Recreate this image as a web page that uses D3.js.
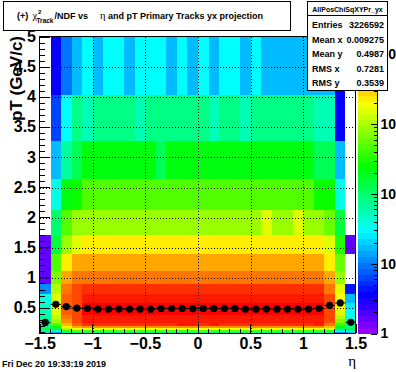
<!DOCTYPE html>
<html><head><meta charset="utf-8">
<script src="https://cdn.jsdelivr.net/npm/d3@7"></script>
<style>body{margin:0;background:#fff}svg{display:block}</style>
</head><body><svg id="c" width="396" height="372"></svg>
<script>
// ---- binning ----
const etaEdges = [-1.5,-1.4,-1.3,-1.2,-1.1,-1.0,-0.9,-0.8,-0.7,-0.6,-0.5,-0.4,-0.3,-0.2,-0.1,0,0.1,0.2,0.3,0.4,0.5,0.6,0.7,0.8,0.9,1.0,1.1,1.2,1.3,1.4,1.5];
const ptEdges = [0.07,0.0867,0.107,0.133,0.164,0.204,0.252,0.312,0.386,0.478,0.592,0.733,0.907,1.123,1.39,1.72,2.13,2.64,3.27,4.04,5.0];
// ---- counts per pT bin (30 eta bins each), top row first ----
const pt19 = [0,3.6,9.6,17,31,16,30,32,17,31,29,31,16,30,17,32,17,30,31,17,30,18,17,16,17,18,17,16,3.5,0];
const pt18 = [0,6.4,31,82,56,84,80,83,79,55,81,85,82,80,84,83,57,81,84,56,82,80,83,85,81,84,55,57,3.6,0];
const pt17 = [0,17,68,122,220,218,222,216,219,221,217,124,220,223,218,221,219,217,222,220,218,221,219,216,222,218,121,123,17,0];
const pt16 = [0,38,220,268,480,475,482,478,485,470,479,483,476,481,488,477,480,484,474,479,486,478,481,476,483,480,266,270,37,0];
const pt15 = [0,100,480,860,870,855,865,872,858,866,862,870,857,868,875,860,866,871,859,864,869,1550,862,867,1540,865,858,580,148,0];
const pt14 = [1.6,148,860,1550,2290,2310,2280,2320,2300,2295,2315,2285,2305,2330,2298,2310,2288,2302,2318,2292,2308,2296,2312,2287,2305,2299,2290,1560,325,1.6];
const pt13 = [1.6,480,2300,4140,4160,4120,4180,4150,4130,4170,4145,4155,4125,4165,4140,4175,4135,4150,4160,4128,4170,4142,4158,4133,4166,4148,4138,2290,590,0];
const pt12 = [1.6,710,4140,6100,6150,6080,6200,6120,6090,6170,6110,6140,6060,6180,6130,6105,6160,6095,6145,6175,6085,6125,6155,6115,6135,6090,6165,4150,860,0];
const pt11 = [11.6,1050,6130,9100,11000,11050,10950,11100,11020,10980,11070,11010,11040,10960,11080,11030,10990,11060,11015,11045,10970,11055,11025,10985,11035,11005,11065,6120,1550,4.4];
const pt10 = [37,1550,7450,9070,13400,13500,13300,13600,13450,13350,13550,13420,13480,13380,13520,13440,13360,13580,13410,13470,13390,13530,13430,13370,13510,13460,13400,9060,1890,17];
const pt09 = [46,1890,7460,9080,15200,15400,15100,15600,15300,15000,15500,15250,15350,15150,15450,15300,15100,15550,15200,15400,15150,15500,15250,15050,15450,15350,15200,9050,1880,25];
const pt08 = [56,1560,7440,9060,15900,16100,15800,16300,16000,15700,16200,15950,16050,15850,16150,18000,15800,16250,15900,16100,15850,16200,16000,15750,16150,16050,15900,9070,1540,31];
const pt07 = [68,1280,6130,9070,14000,14100,13950,14200,14050,13900,14150,14020,14080,13980,14120,14040,13960,14180,14010,14070,13990,14130,14030,13970,14110,14060,14000,9060,1050,37];
const pt06 = [68,860,5040,9050,13200,13300,13150,13400,13250,13100,13350,13220,13280,13180,13320,13240,13160,13380,13210,13270,13190,13330,13230,13170,13310,13260,13200,9040,710,46];
const pt05 = [82,480,3400,7450,11000,11100,10900,11200,11050,10950,11150,11020,11080,12900,12800,11040,12700,11180,11010,11070,10990,11130,11030,10970,11110,11060,12600,6130,394,68];
const pt04 = [100,268,2300,4150,5040,5080,5000,5100,5060,4980,5090,5030,5070,4990,5110,5050,5010,5085,5025,5065,4995,5075,5035,5005,5095,5055,5040,3400,220,82];
const pt03 = [122,148,1050,1890,1880,1900,1870,1910,1890,1860,1905,1885,1895,1875,1915,1890,1865,1908,1882,1898,1872,1912,1888,1868,1902,1892,1880,1550,122,122];
const pt02 = [82,56,394,583,480,485,475,490,482,478,488,481,486,476,492,483,477,489,480,487,479,491,484,474,488,485,480,394,46,68];
const pt01 = [21,14,68,100,82,83,81,84,82,80,85,82,83,81,84,82,80,85,82,83,81,84,82,80,85,83,82,68,11.6,17];
const pt00 = [5.3,3.6,11.6,14,5.3,5.4,5.2,5.5,5.3,5.1,5.4,5.3,5.2,5.5,5.3,5.4,5.2,5.3,5.5,5.1,5.4,5.3,5.2,5.4,5.3,5.5,5.3,11.6,3.6,5.3];
// ---- profile (mean pT per eta bin) ----
const profile = [0.262,0.562,0.525,0.498,0.497,0.482,0.482,0.484,0.483,0.482,0.481,0.492,0.493,0.494,0.492,0.493,0.494,0.495,0.494,0.483,0.482,0.483,0.482,0.483,0.482,0.483,0.497,0.545,0.585,0.264];
// ---- ticks / texts ----
const xTicks = [-1.5,-1,-0.5,0,0.5,1,1.5];
const yTicks = [0.5,1,1.5,2,2.5,3,3.5,4,4.5,5];
const xGrid = [-1,-0.5,0,0.5,1];
const yGrid = [0.5,1,1.5,2,2.5,3,3.5,4,4.5];
const zTicks = [1,10,100,1000,10000];
const zMin = 1;
const statsTitle = "AllPosChiSqXYPr_yx";
const statsLabels = ["Entries","Mean x","Mean y","RMS x","RMS y"];
const statsValues = ["3226592","0.009275","0.4987","0.7281","0.3539"];
const dateText = "Fri Dec 20 19:33:19 2019";

const rows = [pt00,pt01,pt02,pt03,pt04,pt05,pt06,pt07,pt08,pt09,pt10,pt11,pt12,pt13,pt14,pt15,pt16,pt17,pt18,pt19];
const FONT = "'Liberation Sans', Arial, Helvetica, sans-serif";
const svg = d3.select("#c");
svg.append("rect").attr("width",396).attr("height",372).attr("fill","#fff");

const x = d3.scaleLinear().domain([-1.5,1.5]).range([40,356]);
const y = d3.scaleLinear().domain([0.07,5]).range([334,37]);
const zMax = d3.max(rows.flat());
const nCol = 50;
const lz = d3.scaleLinear().domain([Math.log10(zMin),Math.log10(zMax)]).range([0,nCol]);
const palColor = i => d3.hsl(280-(i+1)*280/nCol,1,0.5).toString();
const colorOf = v => palColor(Math.max(0,Math.min(nCol-1,Math.floor(lz(Math.log10(v))))));

// title box
svg.append("rect").attr("x",3.5).attr("y",1.5).attr("width",287).attr("height",28.5)
  .attr("fill","#fff").attr("stroke","#000").attr("shape-rendering","crispEdges");
const tt = svg.append("g").attr("font-family",FONT).attr("font-weight","bold").attr("fill","#000");
tt.append("text").attr("x",17).attr("y",19).attr("font-size",9).text("(+)");
tt.append("text").attr("x",32.5).attr("y",19).attr("font-size",10.5).attr("font-weight","normal").attr("font-family","'Liberation Serif', serif").text("χ");
tt.append("text").attr("x",38).attr("y",13.5).attr("font-size",6).text("2");
tt.append("text").attr("x",36.5).attr("y",22.5).attr("font-size",6.5).text("Track");
tt.append("text").attr("x",54.5).attr("y",19).attr("font-size",9).text("/NDF vs");
tt.append("text").attr("x",100).attr("y",19).attr("font-size",10.5).attr("font-weight","normal").attr("font-family","'Liberation Serif', serif").text("η");
tt.append("text").attr("x",108).attr("y",19).attr("font-size",9).text("and pT Primary Tracks yx projection");

// cells
const cells = [];
rows.forEach((r,ri)=>r.forEach((v,ci)=>{ if(v>0) cells.push({ri,ci,v}); }));
svg.append("g").attr("shape-rendering","crispEdges").selectAll("rect").data(cells).join("rect")
  .attr("x",d=>Math.round(x(etaEdges[d.ci])))
  .attr("width",d=>Math.round(x(etaEdges[d.ci+1]))-Math.round(x(etaEdges[d.ci])))
  .attr("y",d=>Math.round(y(ptEdges[d.ri+1])))
  .attr("height",d=>Math.round(y(ptEdges[d.ri]))-Math.round(y(ptEdges[d.ri+1])))
  .attr("fill",d=>colorOf(d.v));

// grid
const grid = svg.append("g").attr("stroke","#000").attr("stroke-dasharray","1,2").attr("shape-rendering","crispEdges");
grid.selectAll(".gx").data(xGrid).join("line").attr("class","gx")
  .attr("x1",d=>Math.round(x(d))+0.5).attr("x2",d=>Math.round(x(d))+0.5).attr("y1",37).attr("y2",333);
grid.selectAll(".gy").data(yGrid).join("line").attr("class","gy")
  .attr("y1",d=>Math.round(y(d))+0.5).attr("y2",d=>Math.round(y(d))+0.5).attr("x1",40).attr("x2",355);

// frame
svg.append("rect").attr("x",39.5).attr("y",36.5).attr("width",316).attr("height",297)
  .attr("fill","none").attr("stroke","#000").attr("shape-rendering","crispEdges");

// profile markers
const pts = profile.map((p,i)=>({e0:etaEdges[i],e1:etaEdges[i+1],p}));
const pg = svg.append("g");
pg.selectAll("line").data(pts).join("line")
  .attr("x1",d=>x(d.e0)).attr("x2",d=>x(d.e1)).attr("y1",d=>y(d.p)).attr("y2",d=>y(d.p))
  .attr("stroke","#000").attr("stroke-width",1);
pg.selectAll("circle").data(pts).join("circle")
  .attr("cx",d=>x((d.e0+d.e1)/2)).attr("cy",d=>y(d.p)).attr("r",3.6).attr("fill","#000");

// axes
function styleAxis(g,size){
  g.attr("font-family",FONT).attr("font-weight","bold").attr("font-size",size);
  g.select(".domain").remove();
  g.selectAll("line").attr("shape-rendering","crispEdges");
}
const xMinor = d3.range(-15,16).map(v=>v/10).filter(v=>Math.abs(v*2-Math.round(v*2))>1e-6);
const yMinor = d3.range(1,50).map(v=>v/10).filter(v=>Math.abs(v*2-Math.round(v*2))>1e-6);
svg.append("g").attr("transform","translate(-0.5,333)")
  .call(d3.axisBottom(x).tickValues(xMinor).tickSize(-4.5).tickFormat(()=>"")).call(g=>styleAxis(g,16));
svg.append("g").attr("transform","translate(-0.5,333)")
  .call(d3.axisBottom(x).tickValues(xTicks).tickSize(-9).tickPadding(5).tickFormat(d3.format("~g"))).call(g=>styleAxis(g,16));
svg.append("g").attr("transform","translate(40,-0.5)")
  .call(d3.axisLeft(y).tickValues(yMinor).tickSize(-4.7).tickFormat(()=>"")).call(g=>styleAxis(g,16));
svg.append("g").attr("transform","translate(40,-0.5)")
  .call(d3.axisLeft(y).tickValues(yTicks).tickSize(-9.5).tickPadding(4).tickFormat(d3.format("~g"))).call(g=>styleAxis(g,16));

// axis titles
svg.append("text").attr("transform","translate(22,36) rotate(-90)").attr("text-anchor","end")
  .attr("font-family",FONT).attr("font-weight","bold").attr("font-size",17).text("pT (GeV/c)");
svg.append("text").attr("x",356).attr("y",366).attr("text-anchor","end")
  .attr("font-family","'Liberation Serif', serif").attr("font-size",15).text("η");

// palette
const band = d3.scaleLinear().domain([0,nCol]).range([334,37]);
svg.append("g").attr("shape-rendering","crispEdges").selectAll("rect").data(d3.range(nCol)).join("rect")
  .attr("x",358).attr("width",19)
  .attr("y",i=>Math.round(band(i+1))).attr("height",i=>Math.round(band(i))-Math.round(band(i+1)))
  .attr("fill",i=>palColor(i));
const zScale = d3.scaleLog().domain([zMin,zMax]).range([334,37]);
const zMinor = zScale.ticks().filter(v=>!zTicks.includes(v));
svg.append("g").attr("transform","translate(376.5,-0.5)")
  .call(d3.axisRight(zScale).tickValues(zMinor).tickSize(-3).tickFormat(()=>"")).call(g=>styleAxis(g,14));
const za = svg.append("g").attr("transform","translate(376.5,-0.5)")
  .call(d3.axisRight(zScale).tickValues(zTicks).tickSize(-6).tickSizeOuter(0).tickPadding(4).tickFormat(d=>String(d)));
za.attr("font-family",FONT).attr("font-weight","bold").attr("font-size",14);
za.selectAll("line").attr("shape-rendering","crispEdges");
za.select(".domain").attr("shape-rendering","crispEdges");
za.selectAll(".tick text").each(function(d){
  const t = d3.select(this); t.text(null);
  if (d===1) t.text("1");
  else if (d===10) t.text("10");
  else { t.append("tspan").text("10"); t.append("tspan").attr("dy","-0.45em").attr("font-size",10).text(Math.round(Math.log10(d))); }
});

// stats box
svg.append("rect").attr("x",307.5).attr("y",1.5).attr("width",80).attr("height",89)
  .attr("fill","#fff").attr("stroke","#000").attr("shape-rendering","crispEdges");
svg.append("line").attr("x1",307.5).attr("x2",387.5).attr("y1",15.5).attr("y2",15.5).attr("stroke","#000").attr("shape-rendering","crispEdges");
const st = svg.append("g").attr("font-family",FONT).attr("font-weight","bold");
st.append("text").attr("x",347.5).attr("y",12).attr("text-anchor","middle").attr("font-size",7).text(statsTitle);
statsLabels.forEach((l,i)=>{
  st.append("text").attr("x",312).attr("y",28+i*14.5).attr("font-size",9).text(l);
  st.append("text").attr("x",384).attr("y",28+i*14.5).attr("text-anchor","end").attr("font-size",9).text(statsValues[i]);
});

// date
svg.append("text").attr("x",2).attr("y",367).attr("font-family",FONT).attr("font-weight","bold").attr("font-size",9).text(dateText);
</script></body></html>
